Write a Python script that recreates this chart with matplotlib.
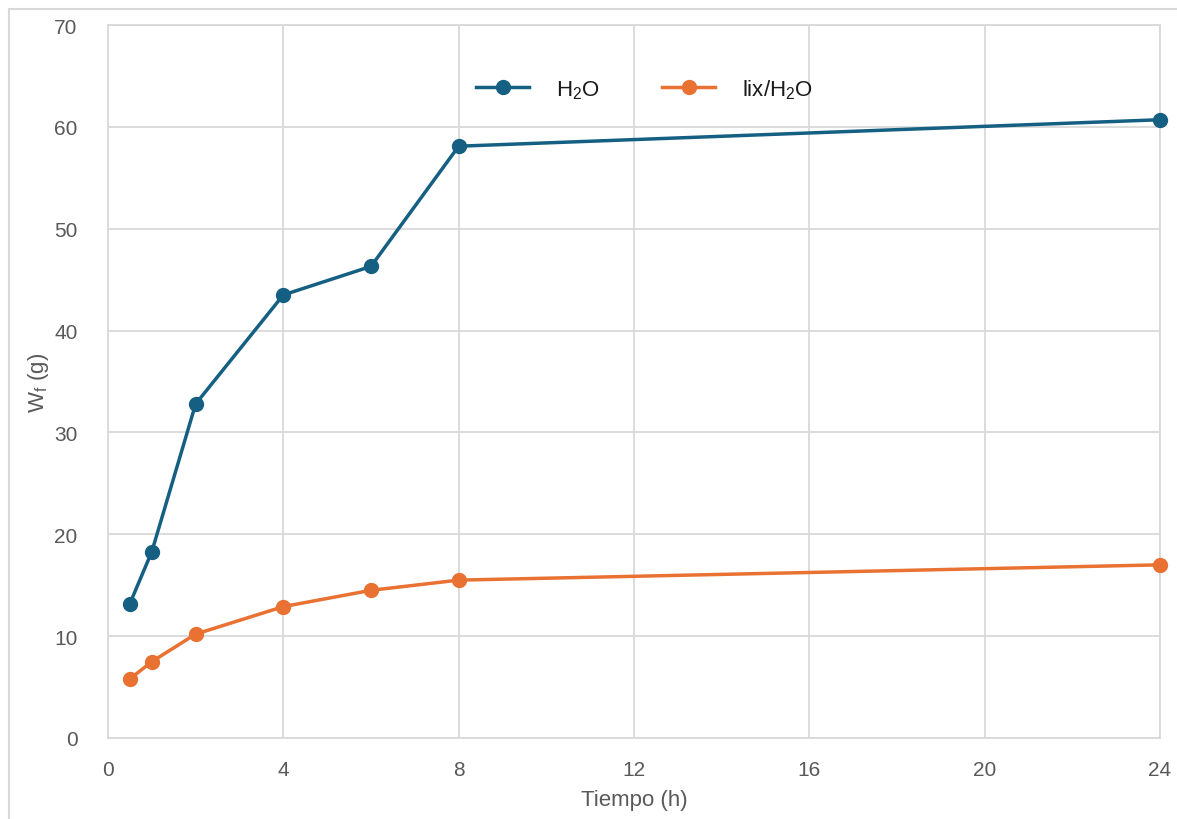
import matplotlib.pyplot as plt
from matplotlib.patches import Rectangle

tiempo = [0.5, 1, 2, 4, 6, 8, 24]
w_h2o = [13.2, 18.3, 32.8, 43.5, 46.3, 58.1, 60.7]
w_lix = [5.8, 7.5, 10.2, 12.9, 14.5, 15.5, 17.0]
series_names = ["H$_2$O", "lix/H$_2$O"]
x_ticks = [0, 4, 8, 12, 16, 20, 24]
y_ticks = [0, 10, 20, 30, 40, 50, 60, 70]

blue = "#156082"
orange = "#E97132"
grid_c = "#D9D9D9"
text_c = "#595959"

plt.rcParams['font.family'] = ['Liberation Sans', 'DejaVu Sans']
plt.rcParams['mathtext.fontset'] = 'custom'
plt.rcParams['mathtext.rm'] = 'Liberation Sans'

fig = plt.figure(figsize=(11.77, 8.2), dpi=100)
# outer chart border
fig.patches.append(Rectangle((9 / 1177, -0.1), 1.2, 1.1 - 10 / 820,
                             transform=fig.transFigure, fill=False,
                             edgecolor=grid_c, linewidth=1.5))
ax = fig.add_axes([108 / 1177, 1 - 739 / 820, (1160 - 108) / 1177, (739 - 26) / 820])

ax.plot(tiempo, w_h2o, color=blue, lw=2.5, marker='o', ms=10, label=series_names[0], clip_on=False, zorder=3)
ax.plot(tiempo, w_lix, color=orange, lw=2.5, marker='o', ms=10, label=series_names[1], clip_on=False, zorder=3)

ax.set_xlim(0, 24)
ax.set_ylim(0, 70)
ax.set_xticks(x_ticks)
ax.set_yticks(y_ticks)
ax.grid(True, color=grid_c, lw=1.3)
ax.set_axisbelow(True)
for s in ax.spines.values():
    s.set_color(grid_c)
    s.set_linewidth(1.3)
ax.tick_params(length=0, labelsize=15, colors=text_c)
ax.tick_params(axis='x', pad=16)
ax.tick_params(axis='y', pad=22)

ax.set_xlabel("Tiempo (h)", fontsize=16, color=text_c, labelpad=7)
ax.set_ylabel("W$_\\mathrm{f}$ (g)", fontsize=16, color=text_c, labelpad=2)

leg = ax.legend(loc='upper center', bbox_to_anchor=(0.51, 0.955), ncol=2, frameon=False,
                fontsize=16, handlelength=2.4, columnspacing=2.8, handletextpad=1.2)
for t in leg.get_texts():
    t.set_color('#1a1a1a')

fig.savefig("out.png", dpi=100)
